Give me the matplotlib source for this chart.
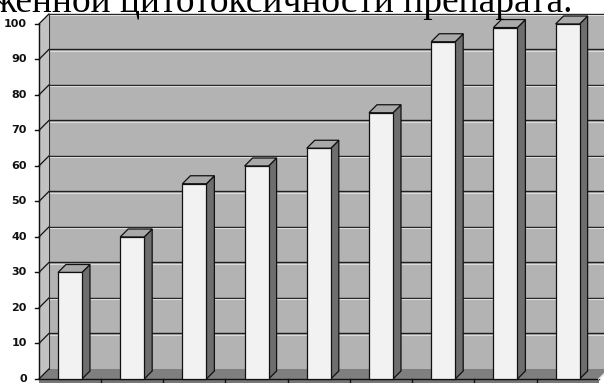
import matplotlib.pyplot as plt
from matplotlib.patches import Polygon, Rectangle

# column values, one per category
values = [30, 40, 55, 60, 65, 75, 95, 99, 100]
y_ticks = [0, 10, 20, 30, 40, 50, 60, 70, 80, 90, 100]
y_labels = [str(t) for t in y_ticks]
caption = "женной цитотоксичности препарата."

W, H = 604, 383
fig = plt.figure(figsize=(W / 100, H / 100), dpi=100)
ax = fig.add_axes([0, 0, 1, 1])
x0, x1 = -1.125, 8.585
y0, y1 = -1.127, 106.76
ax.set_xlim(x0, x1)
ax.set_ylim(y0, y1)
ax.axis('off')

# one pixel expressed in data units, used for the fake 3D depth
px = (x1 - x0) / W
py = (y1 - y0) / H
wall_dx, wall_dy = 10 * px, 10 * py
bar_dx, bar_dy = 8 * px, 8 * py

n = len(values)
left, right = -0.5, n - 0.5
top = y_ticks[-1]

# back wall, side wall and floor
ax.add_patch(Rectangle((left + wall_dx, wall_dy), x1 - left, top,
                       facecolor='#b3b3b3', edgecolor='none', zorder=1))
ax.add_patch(Polygon([(left, 0), (left + wall_dx, wall_dy),
                      (left + wall_dx, top + wall_dy), (left, top)],
                     facecolor='#c2c2c2', edgecolor='none', zorder=1))
ax.add_patch(Polygon([(left, 0), (right, 0), (right + wall_dx, wall_dy),
                      (left + wall_dx, wall_dy)],
                     facecolor='#7f7f7f', edgecolor='none', zorder=1))

# gridlines on the back wall, slanted ticks on the side wall
for t, lab in zip(y_ticks, y_labels):
    if t > 0:
        ax.plot([left + wall_dx, x1], [t + wall_dy, t + wall_dy],
                color='#1e1e1e', lw=1.0, zorder=2, solid_capstyle='butt')
        ax.plot([left + wall_dx, x1], [t + wall_dy - 1.1 * py, t + wall_dy - 1.1 * py],
                color='#dcdcdc', lw=0.8, zorder=2, solid_capstyle='butt')
    ax.plot([left, left + wall_dx], [t, t + wall_dy], color='#111111', lw=0.9, zorder=3)
    ax.plot([left - 4 * px, left], [t, t], color='#111111', lw=1.0, zorder=3)
    ax.text(left - 12 * px, t, lab, ha='right', va='center', fontsize=8,
            fontweight='bold', color='#111111', zorder=3)

# axis lines
ax.plot([left, left], [0, top], color='#111111', lw=1.0, zorder=3)
ax.plot([left + wall_dx, left + wall_dx], [wall_dy, top + wall_dy],
        color='#333333', lw=0.8, zorder=2)
ax.add_patch(Rectangle((left, y0), right - left, -y0,
                       facecolor='#777777', edgecolor='none', zorder=3))
ax.plot([left, right], [0, 0], color='#111111', lw=1.0, zorder=3)
ax.plot([right, right + wall_dx], [0, wall_dy], color='#dddddd', lw=1.0, zorder=3)
for i in range(1, n):
    ax.plot([i - 0.5, i - 0.5], [0, -4 * py], color='#111111', lw=1.0, zorder=4)

# columns: front face, right side and top
width = 24 / 62.2
xs = list(range(n))
ax.bar(xs, values, width=width, color='#f2f2f2', edgecolor='#111111',
       linewidth=0.9, zorder=5)
for x, v in zip(xs, values):
    r = x + width / 2
    l = x - width / 2
    ax.add_patch(Polygon([(r, 0), (r + bar_dx, bar_dy), (r + bar_dx, v + bar_dy), (r, v)],
                         facecolor='#6e6e6e', edgecolor='#111111', lw=0.9, zorder=4))
    ax.add_patch(Polygon([(l, v), (r, v), (r + bar_dx, v + bar_dy), (l + bar_dx, v + bar_dy)],
                         facecolor='#a9a9a9', edgecolor='#111111', lw=0.9, zorder=4))

# caption line running off the top edge
ax.text(left + 534 * px, y1 - 12 * py, caption, ha='right', va='baseline',
        fontsize=27, family='Liberation Serif', color='black', zorder=6)

fig.savefig('out.png', dpi=100)
